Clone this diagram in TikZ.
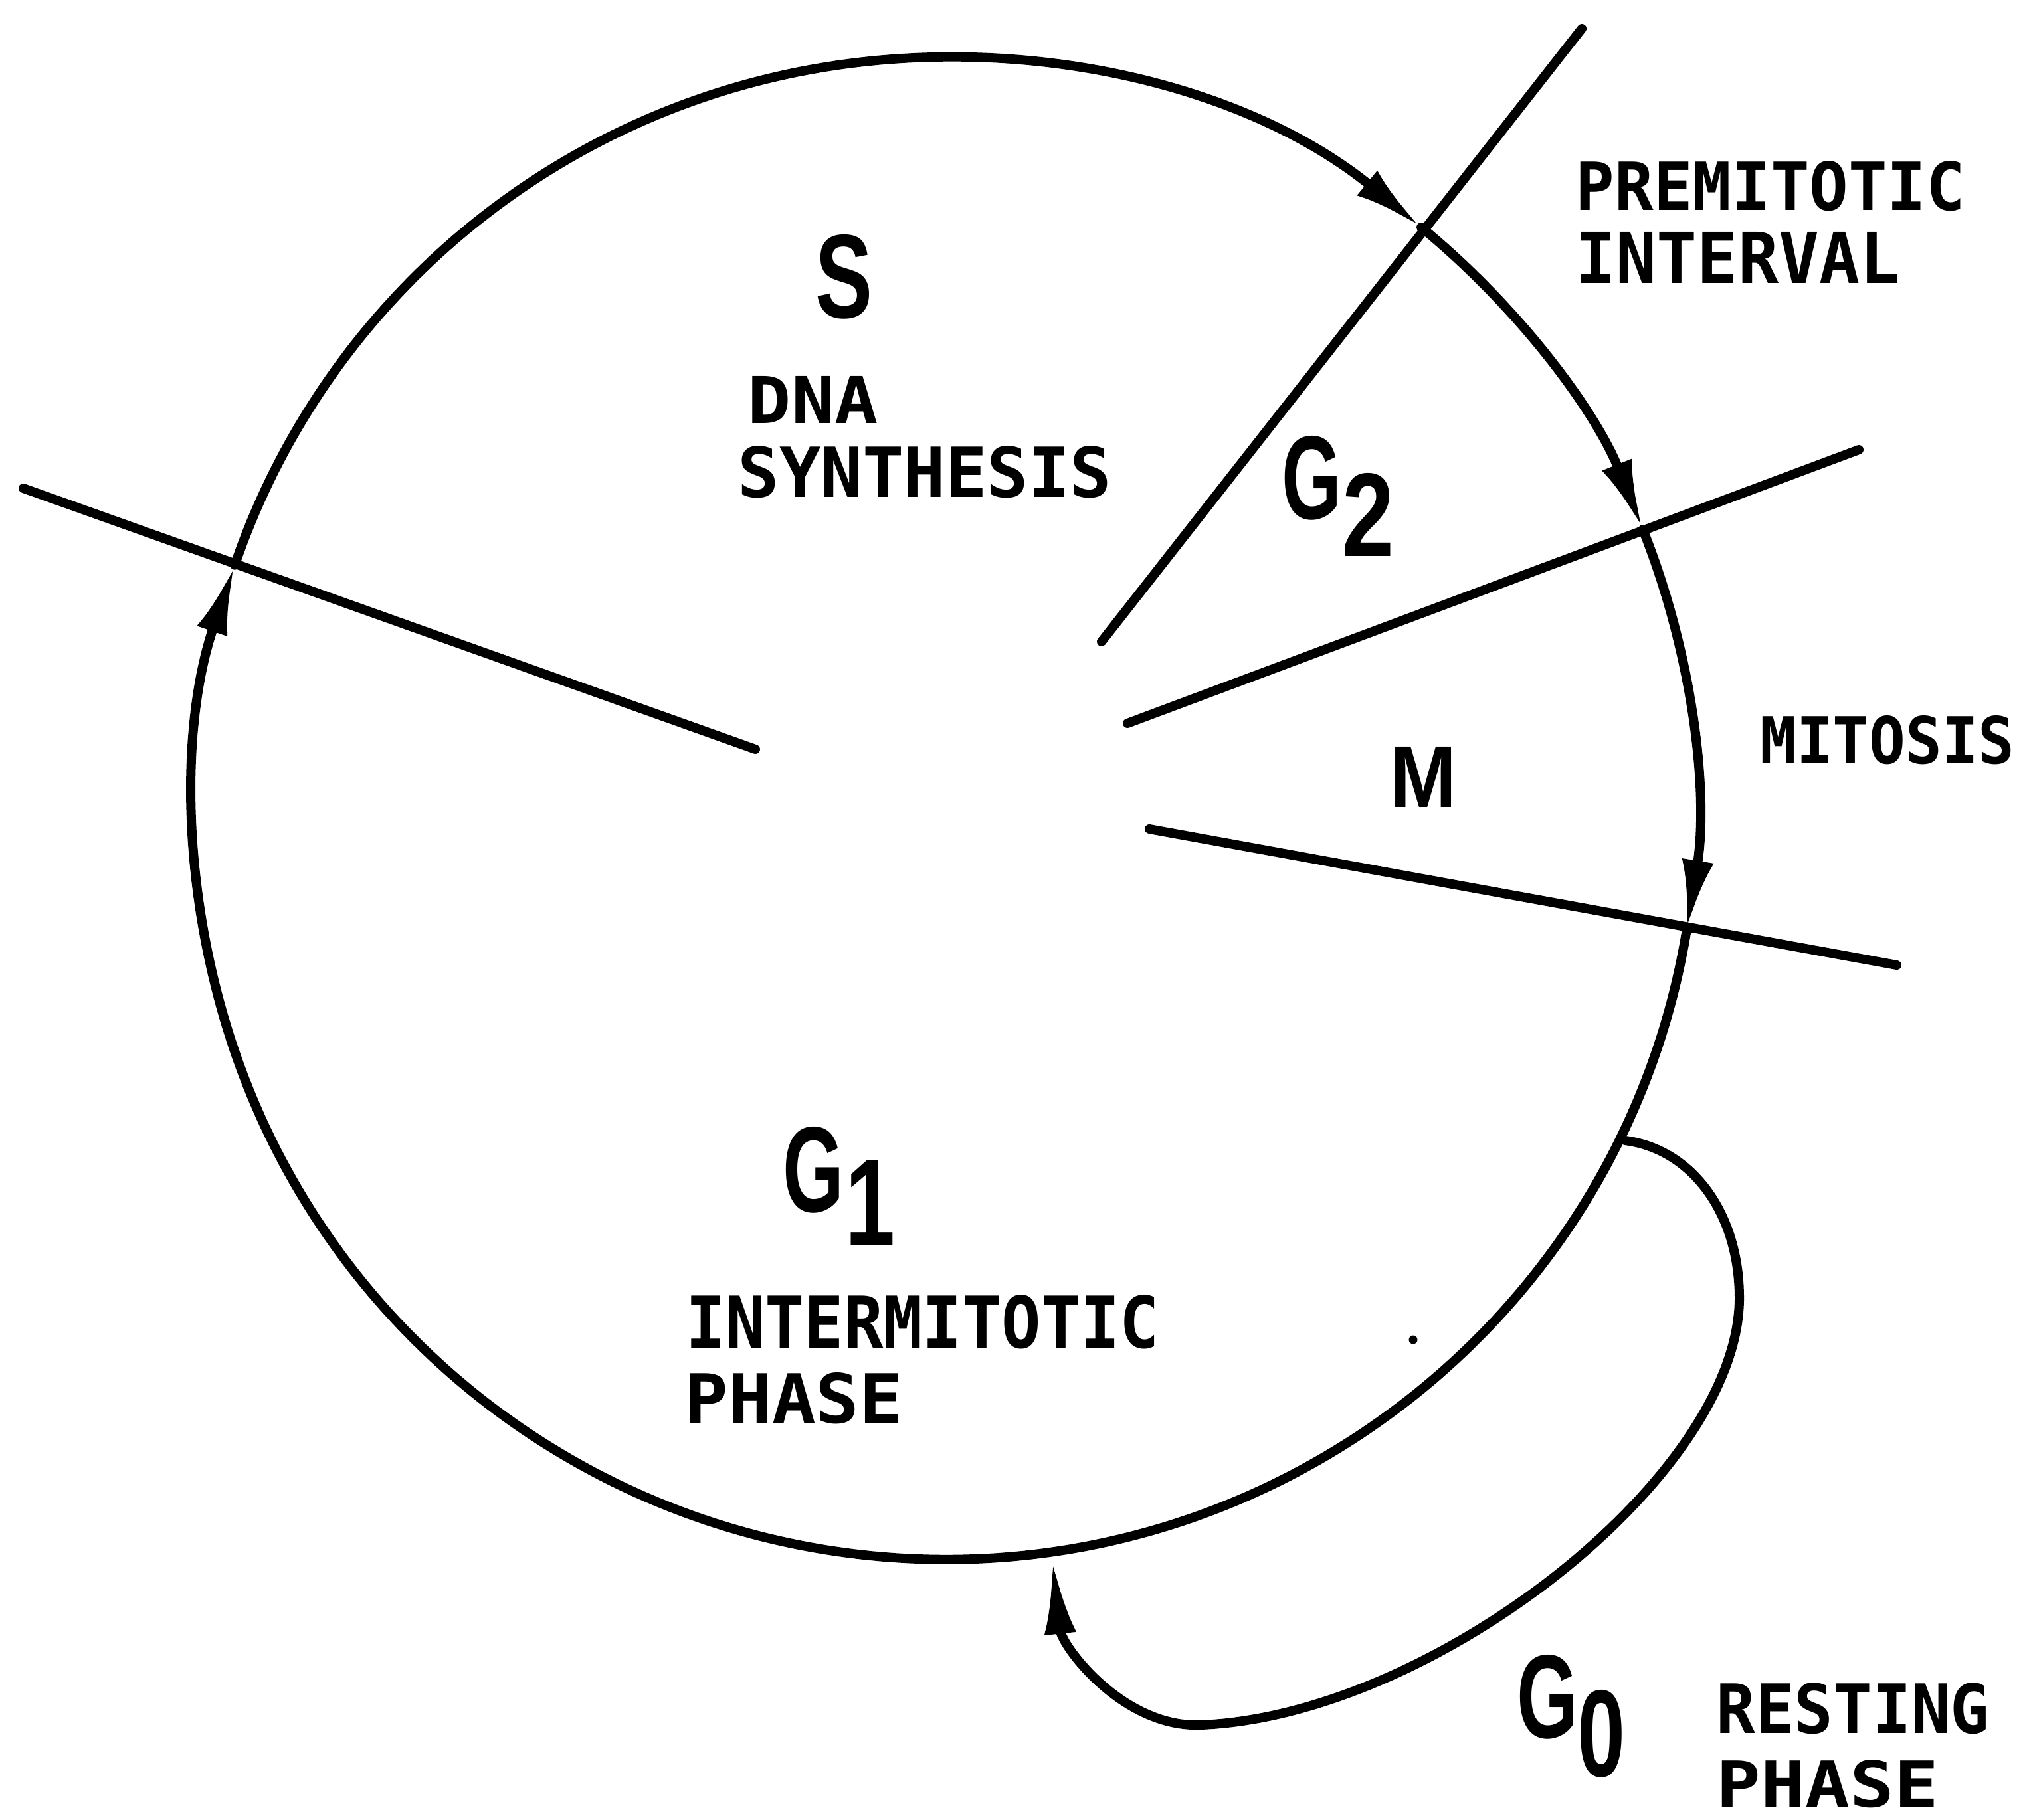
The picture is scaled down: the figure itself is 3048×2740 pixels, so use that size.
\documentclass[tikz,border=0pt]{standalone}
\usepackage{fontspec}
\usepackage{graphicx}
\usetikzlibrary{arrows.meta}
\newfontfamily\labfont{DejaVu Sans Mono}
\newfontfamily\bigfont{Liberation Sans}
\newcommand{\fitbox}[3]{\resizebox{#1}{#2}{#3}}
\begin{document}
\begin{tikzpicture}[x=0.01cm,y=0.01cm, line width=0.14cm, line cap=round, line join=round,
  lbl/.style={inner sep=0pt, outer sep=0pt, font=\labfont\bfseries},
  big/.style={inner sep=0pt, outer sep=0pt, font=\bigfont\bfseries},
  arr/.style={-{Latex[length=1.05cm,width=0.48cm]}}]
\fill[white] (0,0) rectangle (3048,-2740);
\useasboundingbox (0,0) rectangle (3048,-2740);
% cycle circle
\coordinate (c) at (1423,-1217);
\draw[arr] ([shift={(-9.3:11.3cm)}]c) arc[start angle=-9.3, end angle=-198.9, radius=11.3cm];
\draw[arr] ([shift={(161.1:11.3cm)}]c) arc[start angle=161.1, end angle=50.7, radius=11.3cm];
\draw[arr] ([shift={(50.7:11.3cm)}]c) arc[start angle=50.7, end angle=21.8, radius=11.3cm];
\draw[arr] ([shift={(21.8:11.3cm)}]c) arc[start angle=21.8, end angle=-9.3, radius=11.3cm];
% radial lines
\coordinate (l1a) at (35,-735);   \coordinate (l1b) at (1137,-1128);
\coordinate (l2a) at (2381,-43);  \coordinate (l2b) at (1658,-966);
\coordinate (l3a) at (2798,-677); \coordinate (l3b) at (1697,-1089);
\coordinate (l4a) at (1730,-1248);\coordinate (l4b) at (2855,-1453);
\draw (l1a) -- (l1b);
\draw (l2a) -- (l2b);
\draw (l3a) -- (l3b);
\draw (l4a) -- (l4b);
% G0 loop
\coordinate (g0s) at (2446,-1717);
\coordinate (g0r) at (2618,-1954);
\coordinate (g0b) at (1808,-2597);
\coordinate (g0t) at (1584,-2348);
\draw[-{Latex[length=1.12cm,width=0.48cm]}] (g0s) .. controls (2547,-1730) and (2618,-1827) .. (g0r)
  .. controls (2618,-2220) and (2160,-2582) .. (g0b)
  .. controls (1691,-2602) and (1598,-2479) .. (g0t);
% dot
\fill (2127,-2017) circle[radius=0.065cm];
% labels
\node[lbl] (premit) at (2665,-280) {\fitbox{5.86cm}{0.74cm}{PREMITOTIC}};
\node[lbl] (interv) at (2616,-388) {\fitbox{4.88cm}{0.77cm}{INTERVAL}};
\node[lbl] (dna) at (1224,-602) {\fitbox{1.96cm}{0.71cm}{DNA}};
\node[lbl] (synth) at (1392,-711) {\fitbox{5.62cm}{0.77cm}{SYNTHESIS}};
\node[lbl] (intermit) at (1389,-1990) {\fitbox{7.12cm}{0.80cm}{INTERMITOTIC}};
\node[lbl] (phaseA) at (1195,-2105) {\fitbox{3.29cm}{0.76cm}{PHASE}};
\node[lbl] (resting) at (2789,-2572) {\fitbox{4.11cm}{0.76cm}{RESTING}};
\node[lbl] (phaseB) at (2751,-2686) {\fitbox{3.34cm}{0.71cm}{PHASE}};
\node[lbl] (mitosis) at (2841,-1114) {\fitbox{3.83cm}{0.72cm}{MITOSIS}};
\node[big] (S) at (1271,-417) {\fitbox{0.86cm}{1.25cm}{S}};
\node[big] (G2g) at (1975,-720) {\fitbox{0.90cm}{1.25cm}{G}};
\node[big] (G2n) at (2060,-775) {\fitbox{0.78cm}{1.25cm}{2}};
\node[big] (M) at (2143,-1170) {\fitbox{1.00cm}{0.91cm}{M}};
\node[big] (G1g) at (1225,-1761) {\fitbox{0.92cm}{1.28cm}{G}};
\node[big] (G1n) at (1310,-1811) {\fitbox{0.75cm}{1.27cm}{1}};
\node[big] (G0g) at (2330,-2555) {\fitbox{0.92cm}{1.25cm}{G}};
\node[big] (G0n) at (2410,-2610) {\fitbox{0.72cm}{1.30cm}{0}};
\end{tikzpicture}
\end{document}
